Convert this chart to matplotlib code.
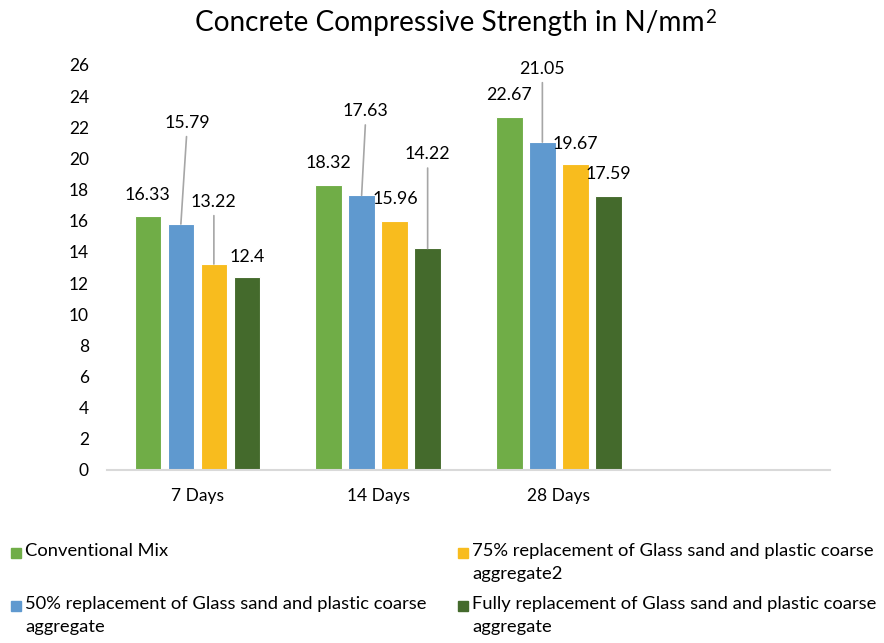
import numpy as np
import matplotlib.pyplot as plt
from matplotlib.patches import Rectangle

plt.rcParams['font.family'] = ['Lato', 'DejaVu Sans']

days = ['7 Days', '14 Days', '28 Days']
conventional = [16.33, 18.32, 22.67]
half_repl = [15.79, 17.63, 21.05]
three_q_repl = [13.22, 15.96, 19.67]
full_repl = [12.4, 14.22, 17.59]

series = [conventional, half_repl, three_q_repl, full_repl]
names = ['Conventional Mix',
         '50% replacement of Glass sand and plastic coarse\naggregate',
         '75% replacement of Glass sand and plastic coarse\naggregate2',
         'Fully replacement of Glass sand and plastic coarse\naggregate']
colors = ['#70ad47', '#5f99cf', '#f8bc1e', '#446a2c']

# label offsets in pixels (dx, dy) from the bar top, leader line if True
lab_off = [[(0, 21, False), (0, 22, False), (0, 22, False)],
           [(6, 101, True), (4, 84, True), (0, 73, True)],
           [(0, 62, True), (1, 22, False), (0, 20, False)],
           [(0, 20, False), (0, 94, True), (0, 22, False)]]

W, H = 884, 643
fig = plt.figure(figsize=(W / 100, H / 100), dpi=100)
ax = fig.add_axes([107 / W, 1 - 470 / H, (830 - 107) / W, (470 - 65) / H])

x = np.arange(len(days))
step = 0.1826
width = 0.146
for k, vals in enumerate(series):
    pos = x + (k - 1.5) * step
    ax.bar(pos, vals, width, color=colors[k], edgecolor='white', linewidth=0.8)
    for i, v in enumerate(vals):
        dx, dy, lead = lab_off[k][i]
        props = None
        if lead:
            props = dict(arrowstyle='-', color='#a6a6a6', lw=1.2,
                         shrinkA=2, shrinkB=0, relpos=(0.5, 0))
        ax.annotate('%g' % v, xy=(pos[i], v), xytext=(dx, dy),
                    textcoords='offset pixels', ha='center', va='center',
                    fontsize=12.8, color='#000000', arrowprops=props)

ax.set_xlim(-0.5, 3.5)
ax.set_ylim(0, 26)
ax.set_yticks(np.arange(0, 27, 2))
ax.set_xticks(x)
ax.set_xticklabels(days)
ax.tick_params(length=0, labelsize=12.5, colors='#000000')
ax.tick_params(axis='y', pad=13)
ax.tick_params(axis='x', pad=13)
for s in ['left', 'right', 'top']:
    ax.spines[s].set_visible(False)
ax.spines['bottom'].set_color('#d9d9d9')
ax.spines['bottom'].set_linewidth(1.5)

# title with a larger superscript 2 than the font's own glyph
title = fig.text(450 / W, 1 - 23 / H, 'Concrete Compressive Strength in N/mm',
                 ha='center', va='center', fontsize=20.2)
fig.canvas.draw()
bb = title.get_window_extent()
fig.text((bb.x1 + 0.5) / W, (bb.y1 + 1) / H, '2', ha='left', va='top',
         fontsize=13.5)

# legend laid out like the original (two columns, wrapped labels)
leg_pos = [(11, 553), (11, 606), (458, 553), (458, 606)]
for k, (lx, ly) in enumerate(leg_pos):
    fig.add_artist(Rectangle((lx / W, 1 - (ly + 5) / H), 10 / W, 10 / H,
                             transform=fig.transFigure, color=colors[k]))
    fig.text((lx + 14) / W, 1 - (ly - 10) / H, names[k], ha='left', va='top',
             fontsize=13.2, linespacing=1.55)

fig.savefig('out.png', dpi=100)
